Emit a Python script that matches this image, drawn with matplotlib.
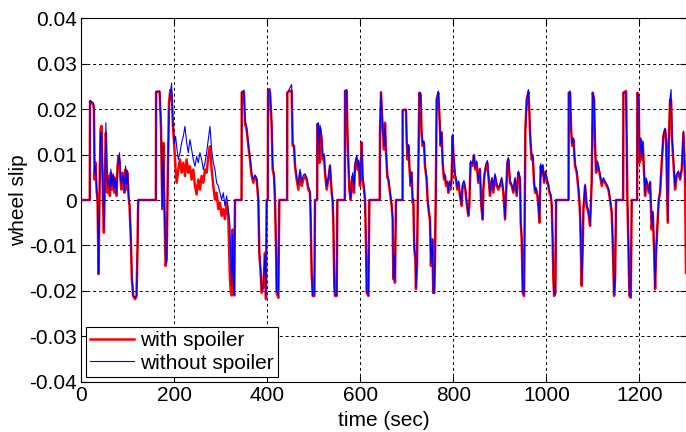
import matplotlib
matplotlib.use("Agg")
import matplotlib.pyplot as plt
from matplotlib.ticker import FuncFormatter

plt.rcParams['font.family'] = ['Liberation Sans', 'DejaVu Sans']

# time (sec), wheel slip with spoiler, wheel slip without spoiler
time = [
    0, 19.0, 19.5, 26.5, 27.9, 29.3, 31.4, 33.5, 35.7, 37.8, 40.0, 42.1, 44.3, 46.4, 49.3, 51.4,
    53.6, 55.0, 57.2, 59.3, 62.2, 64.3, 66.5, 69.3, 71.5, 73.6, 76.5, 78.6, 80.7, 82.9, 85.0, 87.2,
    89.3, 91.5, 93.6, 95.8, 97.9, 100.0, 102.2, 104.4, 107.2, 109.4, 112.2, 116.5, 119.4, 121.6, 123.0,
    161.0, 161.5, 169.0, 171.9, 174.8, 176.9, 179.0, 182.0, 184.1, 186.3, 189.1, 192.0, 194.8, 197.7,
    200.6, 203.4, 205.6, 209.2, 212.8, 216.3, 219.9, 223.5, 227.1, 230.7, 234.2, 237.8, 241.4, 245.0,
    248.6, 252.1, 255.7, 259.3, 262.9, 266.5, 270.0, 273.6, 277.2, 280.8, 284.4, 287.9, 291.5, 295.1,
    298.7, 302.3, 305.8, 309.4, 313.0, 316.6, 320.2, 322.3, 324.0, 326.0, 328.0, 329.5, 331.0,
    345.0, 345.5, 350.3, 352.4, 356.0, 359.6, 363.2, 366.8, 370.4, 373.9, 377.5, 381.1, 383.2, 386.1,
    388.3, 391.9, 395.4, 397.6, 399.0, 401.5, 402.0, 406.2, 409.8, 411.9, 414.8, 416.9, 419.1, 420.5,
    424.1, 426.2, 443.0, 443.4, 449.2, 452.8, 454.9, 457.8, 459.9, 463.5, 467.1, 470.7, 474.2, 477.8,
    481.4, 485.0, 488.6, 492.1, 493.6, 495.7, 497.9, 501.5, 502.9, 507.5, 507.9, 510.0, 512.2, 513.6,
    517.2, 519.3, 522.2, 524.4, 527.9, 531.5, 535.1, 538.7, 540.8, 542.3, 544.4, 545.9, 549.5, 550.9,
    567.0, 567.4, 571.0, 572.4, 574.5, 576.7, 579.6, 581.7, 583.9, 586.7, 588.9, 592.5, 594.6, 596.8,
    599.6, 603.2, 605.4, 608.2, 610.4, 612.5, 614.0, 617.6, 619.7, 642.0, 642.6, 644.7, 648.3, 651.1,
    653.3, 655.4, 658.3, 660.4, 664.0, 667.6, 669.7, 671.2, 672.6, 674.7, 676.9, 691.0, 691.2, 698.4,
    699.8, 702.0, 704.1, 705.5, 708.4, 710.5, 712.7, 714.1, 716.3, 718.4, 719.8, 722.0, 723.4, 725.6,
    727.0, 729.8, 731.9, 734.1, 737.0, 739.1, 742.7, 744.8, 747.7, 749.9, 752.0, 754.9, 757.0, 759.2,
    760.6, 762.8, 764.2, 767.8, 769.9, 772.8, 774.9, 777.1, 780.0, 782.1, 784.3, 787.1, 789.3, 791.4,
    794.3, 796.4, 798.6, 800.0, 803.6, 805.7, 808.6, 811.5, 814.3, 817.9, 820.0, 822.9, 825.8, 828.6,
    832.2, 834.4, 837.2, 841.5, 844.4, 847.3, 850.1, 853.7, 857.3, 860.1, 863.2, 864.6, 866.8, 870.3,
    873.2, 876.1, 878.9, 881.1, 883.2, 886.1, 889.7, 893.2, 896.8, 900.4, 904.0, 907.6, 911.2, 913.3,
    916.2, 918.3, 921.9, 925.5, 929.1, 932.7, 936.3, 939.8, 943.4, 944.9, 947.0, 949.2, 952.1, 953.5,
    954.9, 957.8, 961.4, 963.5, 964.9, 966.4, 968.5, 970.7, 973.5, 975.7, 977.8, 980.7, 982.9, 985.0,
    987.9, 990.0, 992.2, 995.1, 997.9, 1000.8, 1004.4, 1006.5, 1009.4, 1011.6, 1013.7, 1015.1, 1016.6,
    1019.4, 1020.9, 1047.6, 1048.1, 1051.0, 1053.1, 1055.3, 1058.1, 1061.7, 1065.3, 1068.9, 1071.0,
    1072.5, 1074.6, 1076.0, 1078.1, 1079.6, 1083.1, 1086.7, 1090.3, 1093.9, 1097.5, 1099.6, 1102.5,
    1104.6, 1106.8, 1109.6, 1112.5, 1115.4, 1119.0, 1122.5, 1126.1, 1129.7, 1133.3, 1136.9, 1140.4,
    1142.6, 1145.5, 1147.6, 1149.8, 1165.0, 1165.5, 1171.3, 1174.1, 1176.3, 1178.4, 1181.3, 1183.4,
    1195.0, 1195.6, 1198.5, 1199.9, 1202.8, 1204.9, 1207.1, 1209.9, 1212.1, 1214.2, 1217.1, 1220.0,
    1222.8, 1225.0, 1226.4, 1228.6, 1231.4, 1233.6, 1235.7, 1238.6, 1241.4, 1244.3, 1247.9, 1251.5,
    1255.1, 1257.2, 1258.6, 1260.8, 1262.9, 1265.8, 1268.0, 1270.1, 1273.0, 1276.5, 1280.1, 1283.7,
    1287.3, 1290.9, 1294.5, 1298.0, 1300.0,
]

slip_spoiler = [
    0, 0, 0.0218, 0.021, 0.020, 0.0045, 0.0082, 0.0023, 0.0, -0.0163, 0.0023, 0.0155, 0.0163, 0.0045, -0.0072, 0.0045,
    0.0148, 0.0082, 0.0016, 0.0053, 0.0009, 0.006, 0.0023, 0.0053, 0.0016, 0.0045, 0.0009, 0.0075, 0.0097, 0.0085, 0.0045, 0.0023,
    0.006, 0.0045, 0.0016, 0.0067, 0.0023, 0.006, 0.0009, -0.0013, -0.0087, -0.0174, -0.0211, -0.0218, -0.0211, -0.0101, 0,
    0, 0.0238, 0.0238, 0.0162, -0.002, 0.0126, 0.0, -0.0145, -0.013, 0.003, 0.0213, 0.0242, 0.0235, 0.0162,
    0.0118, 0.0067, 0.0038, 0.0067, 0.0089, 0.006, 0.0082, 0.0053, 0.0089, 0.006, 0.0074, 0.0045, 0.0067, 0.0031,
    0.0012, 0.0045, 0.0023, 0.0053, 0.0038, 0.0067, 0.006, 0.0096, 0.0118, 0.0067, 0.0031, 0.0001, 0.0016, -0.002,
    -0.0006, -0.0035, -0.002, -0.0042, -0.0006, -0.0035, -0.0174, -0.0204, -0.021, -0.0065, -0.020, -0.021, 0,
    0, 0.0237, 0.0237, 0.017, 0.0155, 0.0119, 0.0089, 0.0053, 0.0038, 0.0053, 0.0045, 0.0, -0.0116, -0.016,
    -0.0204, -0.019, -0.0116, -0.0218, 0, 0, 0.0243, 0.0236, 0.0163, 0.0067, 0.0053, 0.0, -0.0101, -0.0204,
    -0.0215, 0, 0, 0.0236, 0.024, 0.024, 0.0119, 0.0119, 0.0075, 0.0045, 0.0023, 0.006, 0.0031, 0.0045,
    0.0053, 0.0045, 0.0023, 0.0016, -0.0043, -0.016, -0.0211, -0.0211, 0, 0, 0.0167, 0.0163, 0.0082, 0.0159,
    0.0133, 0.0089, 0.0097, 0.006, 0.0023, 0.0045, 0.0075, 0.0016, -0.0002, -0.005, -0.0189, -0.0211, -0.0211, 0,
    0, 0.024, 0.024, 0.0155, 0.0082, 0.0023, 0.0, 0.0038, 0.0053, 0.0016, 0.0075, 0.0093, 0.0067, 0.0082,
    0.0031, 0.0126, 0.0045, 0.0023, 0.0, -0.0101, -0.0204, -0.0211, 0, 0, 0.0155, 0.0237, 0.0155, 0.0111,
    0.017, 0.0108, 0.0049, 0.0045, 0.0016, -0.0013, -0.0043, -0.0174, -0.0116, -0.0182, 0, 0, 0.0198, 0.0198,
    0.0133, 0.0089, 0.0119, 0.0075, 0.0031, 0.006, -0.0006, 0.0001, -0.0108, -0.013, -0.0196, -0.0145, -0.0028, 0.0119,
    0.0236, 0.0232, 0.0148, 0.0119, 0.0126, 0.0075, 0.0045, 0.0, -0.0028, -0.0043, -0.0145, -0.0086, -0.0204, -0.0204,
    -0.013, 0.0045, 0.0221, 0.0236, 0.0192, 0.0119, 0.0148, 0.0082, 0.0045, 0.0053, 0.0031, 0.0038, 0.0016, 0.0038,
    0.0023, 0.0045, 0.0141, 0.0104, 0.0053, 0.0045, 0.0023, 0.0038, 0.0009, -0.0013, 0.0031, 0.0038, 0.0023, -0.0006,
    -0.0035, -0.0013, 0.0082, 0.0075, 0.0097, 0.0067, 0.0082, 0.0038, 0.0067, -0.0013, -0.0043, 0.0023, 0.0053, 0.0075,
    0.0082, 0.0045, 0.0009, 0.0031, 0.0045, 0.0016, 0.0053, 0.0031, 0.0023, 0.0031, 0.0045, 0.0016, -0.0043, 0.0009,
    0.0082, 0.0089, 0.0038, 0.0031, 0.0016, 0.0045, 0.0009, 0.006, 0.0045, -0.005, -0.0086, -0.0204, -0.0211, -0.003,
    0.0155, 0.0221, 0.0238, 0.0192, 0.0148, 0.0119, 0.0089, 0.0097, 0.0038, 0.0016, 0.0023, 0.0009, -0.0013, -0.005,
    0.0075, 0.0053, 0.0075, 0.0038, 0.006, 0.0045, 0.0031, 0.0016, 0.0009, -0.0013, -0.0101, -0.0174, -0.0211,
    -0.0204, 0, 0, 0.0236, 0.0236, 0.0155, 0.0119, 0.0133, 0.0075, 0.006, 0.0023, -0.0006,
    -0.0035, -0.013, -0.0189, -0.0101, -0.0021, 0.0031, -0.0013, -0.0028, -0.0057, 0.0045, 0.0236, 0.0221,
    0.0119, 0.006, 0.0082, 0.0067, 0.0053, 0.0031, 0.0045, 0.0038, 0.0031, 0.0023, 0.0, -0.0028,
    -0.0094, -0.0211, -0.0174, 0, 0, 0.0236, 0.024, 0.0, -0.0101, -0.0211, -0.0215, 0,
    0, 0.0236, 0.0221, 0.0082, 0.0133, 0.0089, 0.0126, 0.006, 0.0009, 0.0045, 0.0031, 0.0016,
    0.0038, -0.0028, -0.0065, -0.0028, -0.0108, -0.0196, -0.0116, -0.0057, 0.0, 0.0016, 0.0082, 0.0141,
    0.0155, 0.0133, 0.006, -0.005, 0.0119, 0.0221, 0.022, 0.0133, 0.0082, 0.0023, 0.0053, 0.006,
    0.0045, 0.0067, 0.0148, 0.0045, -0.016,
]

slip_no_spoiler = [
    0, 0, 0.0218, 0.0214, 0.0205, 0.006, 0.0075, 0.003, -0.001, -0.016, 0.0015, 0.0148, 0.015, 0.006, -0.0065, 0.004,
    0.017, 0.009, 0.003, 0.0045, 0.002, 0.0068, 0.003, 0.0058, 0.0025, 0.005, 0.0015, 0.0072, 0.0085, 0.0104, 0.005, 0.003,
    0.0055, 0.0052, 0.002, 0.0075, 0.0035, 0.0065, 0.0012, -0.001, -0.008, -0.0165, -0.021, -0.0215, -0.021, -0.0105, 0,
    0, 0.0238, 0.024, 0.017, -0.0015, 0.012, 0.0005, -0.014, -0.0135, 0.002, 0.02, 0.0235, 0.0257, 0.017,
    0.0125, 0.014, 0.0118, 0.0089, 0.0104, 0.0126, 0.014, 0.0162, 0.0126, 0.0104, 0.0133, 0.0111, 0.0089, 0.0074,
    0.0096, 0.0082, 0.0104, 0.0089, 0.0067, 0.0082, 0.0104, 0.0133, 0.0162, 0.0111, 0.0082, 0.0067, 0.0038, 0.0031,
    0.0016, 0.0001, 0.0016, -0.0013, 0.0009, -0.002, -0.0057, -0.0145, -0.019, -0.0075, -0.0195, -0.0208, 0,
    0, 0.0237, 0.0242, 0.0175, 0.016, 0.0125, 0.0095, 0.006, 0.0045, 0.0055, 0.0048, 0.0005, -0.011, -0.0155,
    -0.02, -0.0185, -0.012, -0.0212, 0, 0, 0.0243, 0.0245, 0.017, 0.0075, 0.006, 0.0005, -0.0095, -0.02,
    -0.021, 0, 0, 0.0236, 0.0247, 0.0254, 0.0125, 0.012, 0.008, 0.005, 0.0035, 0.0068, 0.004, 0.0055,
    0.0058, 0.005, 0.003, 0.002, -0.004, -0.0155, -0.021, -0.0208, 0, 0, 0.0167, 0.017, 0.009, 0.0165,
    0.014, 0.0095, 0.0102, 0.0065, 0.003, 0.005, 0.0078, 0.002, 0.0, -0.0045, -0.0185, -0.021, -0.021, 0,
    0, 0.024, 0.0243, 0.016, 0.009, 0.003, 0.0005, 0.004, 0.006, 0.0022, 0.008, 0.0097, 0.0072, 0.0088,
    0.0036, 0.0128, 0.005, 0.003, 0.0, -0.0095, -0.02, -0.021, 0, 0, 0.0155, 0.0237, 0.016, 0.0118,
    0.0165, 0.0112, 0.0055, 0.005, 0.002, -0.001, -0.004, -0.017, -0.012, -0.0178, 0, 0, 0.0198, 0.02,
    0.014, 0.0095, 0.0122, 0.008, 0.0038, 0.0062, 0.0, 0.0003, -0.0105, -0.0125, -0.0192, -0.014, -0.003, 0.0115,
    0.0236, 0.0236, 0.0152, 0.0125, 0.013, 0.008, 0.005, 0.0003, -0.0025, -0.004, -0.014, -0.009, -0.0205, -0.0205,
    -0.0135, 0.004, 0.022, 0.024, 0.0195, 0.0123, 0.015, 0.0088, 0.005, 0.0058, 0.0036, 0.0042, 0.002, 0.0042,
    0.003, 0.005, 0.0145, 0.011, 0.0058, 0.005, 0.0028, 0.0042, 0.0014, -0.001, 0.0035, 0.0043, 0.0028, -0.0002,
    -0.0032, -0.001, 0.0086, 0.008, 0.0101, 0.0072, 0.0086, 0.0043, 0.007, -0.001, -0.004, 0.0027, 0.0057, 0.008,
    0.0087, 0.005, 0.0014, 0.0036, 0.005, 0.002, 0.0058, 0.0036, 0.0028, 0.0035, 0.005, 0.0021, -0.004, 0.0013,
    0.0086, 0.0094, 0.0043, 0.0035, 0.002, 0.005, 0.0013, 0.0064, 0.005, -0.0045, -0.0082, -0.02, -0.0208, -0.003,
    0.015, 0.022, 0.0243, 0.0196, 0.0152, 0.0124, 0.0093, 0.0101, 0.0043, 0.002, 0.0028, 0.0013, -0.001, -0.0046,
    0.008, 0.0057, 0.0078, 0.0042, 0.0064, 0.005, 0.0035, 0.002, 0.0013, -0.001, -0.0097, -0.017, -0.0208,
    -0.0205, 0, 0, 0.0236, 0.024, 0.016, 0.0124, 0.0137, 0.008, 0.0064, 0.0028, -0.0002,
    -0.0032, -0.0126, -0.0185, -0.0105, -0.0018, 0.0035, -0.001, -0.0024, -0.0053, 0.004, 0.0236, 0.0225,
    0.0124, 0.0065, 0.0086, 0.0071, 0.0057, 0.0036, 0.0049, 0.0042, 0.0035, 0.0027, 0.0003, -0.0025,
    -0.009, -0.0208, -0.0178, 0, 0, 0.0236, 0.0236, 0.0, -0.0098, -0.0208, -0.0212, 0,
    0, 0.0236, 0.0225, 0.0086, 0.0137, 0.0093, 0.013, 0.0064, 0.0013, 0.0049, 0.0035, 0.002,
    0.0042, -0.0024, -0.006, -0.0024, -0.0104, -0.0192, -0.012, -0.0053, 0.0003, 0.002, 0.0086, 0.0145,
    0.0158, 0.0137, 0.0064, -0.0046, 0.0115, 0.0225, 0.0243, 0.0137, 0.0086, 0.0028, 0.0057, 0.0064,
    0.0049, 0.0071, 0.0152, 0.0049, 0.003,
]

fig = plt.figure(figsize=(6.86, 4.32), dpi=100)
ax = fig.add_axes([0.118, 0.116, 0.882, 0.842])

ax.plot(time, slip_spoiler, color='red', lw=1.8, label='with spoiler')
ax.plot(time, slip_no_spoiler, color='blue', lw=0.8, label='without spoiler')

ax.set_xlim(0, 1300)
ax.set_ylim(-0.04, 0.04)
ax.set_xticks([0, 200, 400, 600, 800, 1000, 1200])
ax.set_yticks([-0.04, -0.03, -0.02, -0.01, 0, 0.01, 0.02, 0.03, 0.04])
ax.yaxis.set_major_formatter(FuncFormatter(lambda v, p: '0' if abs(v) < 1e-9 else f'{v:.2f}'))
ax.grid(True, color='black', linestyle=(0, (3, 3)), lw=0.7)
ax.tick_params(direction='in', labelsize=15, length=4, top=True, right=True, pad=3)

ax.set_xlabel('time (sec)', fontsize=15, labelpad=4)
ax.set_ylabel('wheel slip', fontsize=15)
ax.yaxis.set_label_coords(-0.088, 0.5)

leg = ax.legend(loc='lower left', fontsize=15, fancybox=False, framealpha=1,
                edgecolor='black', borderaxespad=0.25, handlelength=2.1,
                handletextpad=0.3, borderpad=0.2, labelspacing=0.15)
leg.get_frame().set_linewidth(0.8)

fig.savefig('out.png', dpi=100)
